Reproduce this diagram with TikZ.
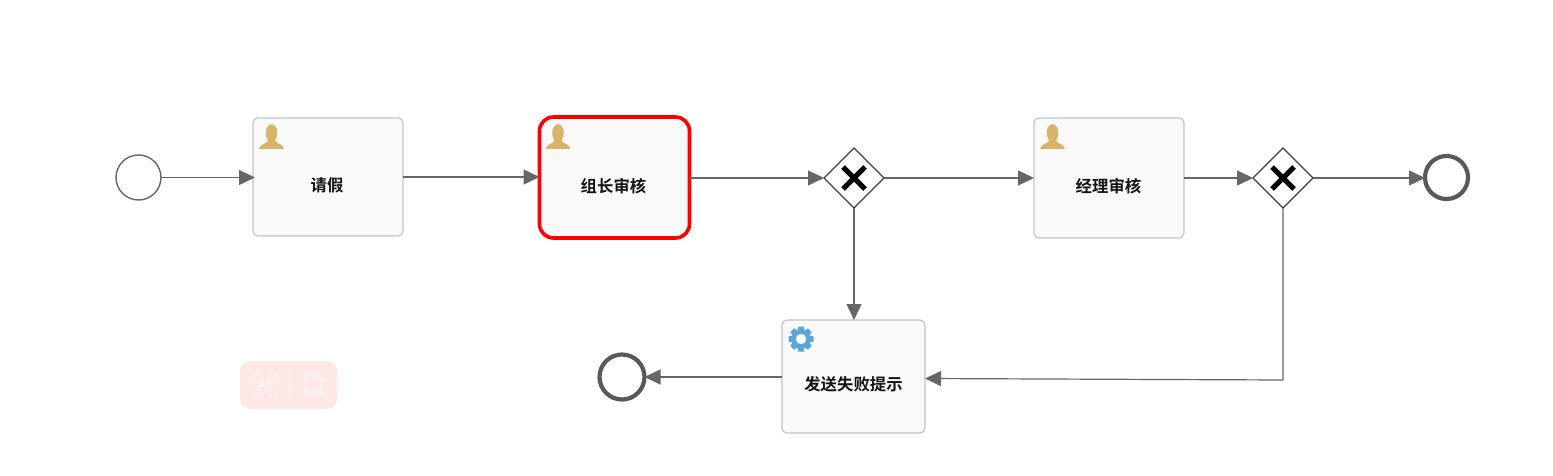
\documentclass[tikz,border=0pt]{standalone}
\usepackage{fontspec}
\setmainfont{Noto Sans CJK SC}[BoldFont={Noto Sans CJK SC Bold}]
\usetikzlibrary{arrows.meta,shapes.geometric}
\definecolor{linegray}{HTML}{666666}
\definecolor{boxline}{HTML}{C4C4C4}
\definecolor{boxfill}{HTML}{F9F9F9}
\definecolor{gold}{HTML}{D9B36A}
\definecolor{gearblue}{HTML}{5BA6D8}
\definecolor{badge}{HTML}{FDE8E5}
\tikzset{
  x=0.5pt,y=-0.5pt,
  flow/.style={draw=linegray,line width=0.6pt,-{Triangle[length=8pt,width=7.5pt,fill=linegray]}},
  task/.style={draw=boxline,fill=boxfill,line width=0.6pt,rounded corners=2.5pt,inner sep=0,outer sep=0},
  active/.style={draw=red,fill=boxfill,line width=1.8pt,rounded corners=7pt,inner sep=0,outer sep=0},
  tasklabel/.style={inner sep=0,font=\bfseries\fontsize{8.2}{8.2}\selectfont,text=black!92},
  gate/.style={diamond,draw=black!75,fill=white,line width=0.55pt,minimum width=30pt,minimum height=30pt,inner sep=0,outer sep=0},
  startev/.style={circle,draw=black!60,fill=white,line width=0.7pt,minimum size=22.5pt,inner sep=0,outer sep=0},
  endev/.style={circle,draw=black!65,fill=white,line width=2.1pt,minimum size=21.5pt,inner sep=0,outer sep=0},
  pics/personicon/.style={code={
    \fill[gold] (0,0) ellipse (5.8 and 8.8);
    \fill[gold] (-3.5,5) -- (3.5,5) -- (4,8.5) .. controls (6,10.5) and (11.5,11.5) .. (12.5,16) -- (-12.5,16) .. controls (-11.5,11.5) and (-6,10.5) .. (-4,8.5) -- cycle;
  }},
  pics/gearicon/.style={code={
    \foreach \a in {0,45,...,315}{
      \fill[gearblue,rotate=\a] (-2.6,-12.5) -- (2.6,-12.5) -- (4,-6) -- (-4,-6) -- cycle;
    }
    \fill[gearblue] (0,0) circle (9);
    \fill[white] (0,0) circle (5.2);
  }},
  pics/xmark/.style={code={
    \draw[black,line width=2.5pt] (-11,-11) -- (11,11) (-11,11) -- (11,-11);
  }}
}
\begin{document}
\begin{tikzpicture}
\useasboundingbox (0,0) rectangle (1553,476);
\fill[white] (0,0) rectangle (1553,476);

% badge
\fill[badge,rounded corners=5pt] (240,361) rectangle (337,409);
\draw[white,line width=0.5pt] (253,378) -- (253,374) -- (258,374) (271,374) -- (276,374) -- (276,378)
  (253,392) -- (253,396) -- (258,396) (271,396) -- (276,396) -- (276,392);
\node[inner sep=0,text=white,font=\fontsize{7}{7}\selectfont] (ai) at (264.5,385) {AI};
\draw[white,line width=0.4pt] (289,373) -- (289,397);
\draw[white,line width=0.6pt] (313,384) circle (9.5) (320,391) -- (323,395);

% events and gateways
\node[startev] (start) at (138.5,177.5) {};
\node[endev] (endA) at (1446.5,177.5) {};
\node[endev,minimum size=22.5pt] (endB) at (622,377) {};
\node[gate] (gwA) at (854,178) {};
\node[gate] (gwB) at (1283,178) {};
\pic at (gwA) {xmark};
\pic at (gwB) {xmark};

% tasks
\node[task,minimum width=75pt,minimum height=59pt] (leave) at (328,177) {};
\node[active,minimum width=75pt,minimum height=60.5pt] (lead) at (614.5,177.5) {};
\node[task,minimum width=75pt,minimum height=60pt] (mgr) at (1109,178) {};
\node[task,minimum width=71.5pt,minimum height=56.5pt] (fail) at (853.5,376.5) {};

\node[tasklabel] (leaveT) at (327,185) {请假};
\node[tasklabel] (leadT) at (613.5,186) {组长审核};
\node[tasklabel] (mgrT) at (1108.5,186) {经理审核};
\node[tasklabel] (failT) at (853.5,384) {发送失败提示};

% icons
\pic at (271.5,133) {personicon};
\pic at (558,133) {personicon};
\pic at (1052.5,133) {personicon};
\pic at (801,339) {gearicon};

% connectors
\coordinate (gwBelow) at (gwA.south |- fail.north);
\coordinate (corner) at (gwB.south |- 0,380);
\coordinate (failIn) at ([yshift=-1pt]fail.east);
\draw[flow,shorten >=-1pt] (start.east) -- (leave.west |- start.east);
\draw[flow] (leave.east) -- (lead.west |- leave.east);
\draw[flow] (lead.east |- gwA.west) -- (gwA.west);
\draw[flow] (gwA.east) -- (mgr.west);
\draw[flow] (mgr.east) -- (gwB.west);
\draw[flow] (gwB.east) -- (endA.west |- gwB.east);
\draw[flow] (gwA.south) -- (gwBelow);
\draw[flow] (gwB.south) -- (corner) -- (failIn);
\draw[flow] (fail.west |- endB.east) -- (endB.east);
\end{tikzpicture}
\end{document}
